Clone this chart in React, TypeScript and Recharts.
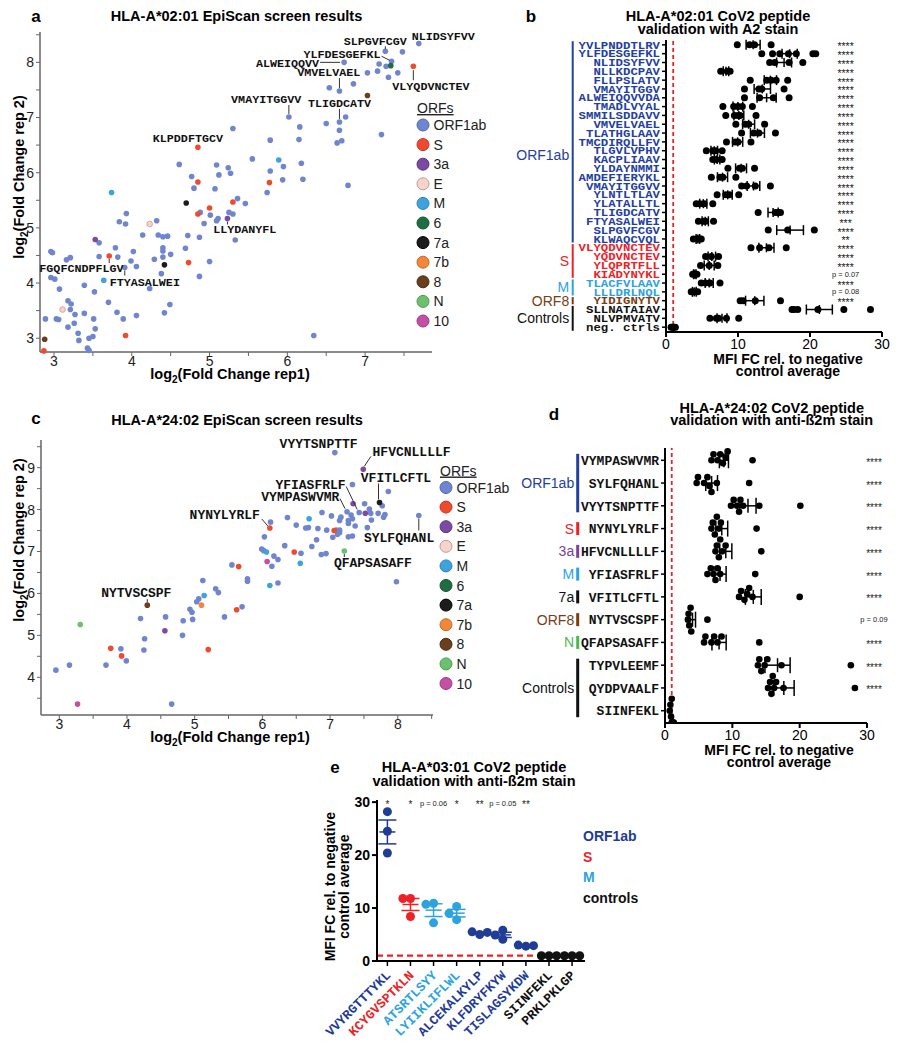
import React from "react"
import { ScatterChart, Scatter, XAxis, YAxis, ReferenceLine, ErrorBar } from "recharts"

const SANS = "'Liberation Sans', Arial, Helvetica, sans-serif"
const MONO = "'Liberation Mono', 'Courier New', monospace"

const BLUE = "#24409F"
const DBLUE = "#1F3C96"
const RED = "#EC2227"
const LBLUE = "#2CA3DF"
const BROWN = "#7A3D14"
const PURPLE = "#7E3F98"
const GREEN = "#4CB850"
const BLACK = "#111111"

const ORFS = ["ORF1ab", "S", "3a", "E", "M", "6", "7a", "7b", "8", "N", "10"]
const ORF_FILL: Record<string, string> = {
  ORF1ab: "#6F86CE", S: "#EE4A2E", "3a": "#7B4BA3", E: "#F6D3CB", M: "#3EA3DD", "6": "#1E6E44",
  "7a": "#1C1C1C", "7b": "#F0873A", "8": "#6B3E1E", N: "#6CC070", "10": "#C54FA3",
}
const ORF_EDGE: Record<string, string> = {
  ORF1ab: "#5068B0", S: "#C83520", "3a": "#5E3485", E: "#C89890", M: "#2583BB", "6": "#14502F",
  "7a": "#000000", "7b": "#C86A22", "8": "#4A2A12", N: "#4A9E4E", "10": "#A03583",
}

// ---- panel a: HLA-A*02:01 EpiScan (rep1, rep2, ORF)
const a2Screen: [number, number, string][] = [
  [7.69, 8.34, "ORF1ab"], [7.26, 8.2, "ORF1ab"], [7.48, 8.19, "ORF1ab"], [7.34, 8.02, "ORF1ab"], [6.73, 8.0, "ORF1ab"],
  [7.18, 7.97, "ORF1ab"], [7.27, 7.93, "ORF1ab"], [7.03, 7.81, "ORF1ab"], [7.16, 7.84, "ORF1ab"], [7.42, 7.81, "ORF1ab"],
  [7.3, 7.73, "ORF1ab"], [6.85, 7.61, "ORF1ab"], [6.54, 7.54, "ORF1ab"], [6.67, 7.48, "ORF1ab"], [6.02, 7.01, "ORF1ab"],
  [6.75, 7.01, "ORF1ab"], [6.67, 6.92, "ORF1ab"], [6.5, 6.89, "ORF1ab"], [6.16, 6.83, "ORF1ab"], [6.67, 6.77, "ORF1ab"],
  [5.3, 6.8, "ORF1ab"], [7.21, 6.69, "ORF1ab"], [5.78, 6.59, "ORF1ab"], [6.15, 6.6, "ORF1ab"], [6.7, 6.58, "ORF1ab"],
  [6.64, 6.54, "ORF1ab"], [5.55, 6.25, "ORF1ab"], [4.61, 6.15, "ORF1ab"], [5.09, 6.14, "ORF1ab"], [5.24, 6.09, "ORF1ab"],
  [6.18, 6.17, "ORF1ab"], [5.95, 6.11, "ORF1ab"], [4.77, 5.93, "ORF1ab"], [5.78, 6.03, "ORF1ab"], [5.12, 5.96, "ORF1ab"],
  [5.27, 5.99, "ORF1ab"], [4.8, 5.72, "ORF1ab"], [5.07, 5.71, "ORF1ab"], [5.94, 5.87, "ORF1ab"], [6.2, 5.88, "ORF1ab"],
  [6.78, 5.77, "ORF1ab"], [5.74, 5.64, "ORF1ab"], [5.36, 5.53, "ORF1ab"], [5.46, 5.44, "ORF1ab"], [4.88, 5.28, "ORF1ab"],
  [5.01, 5.23, "ORF1ab"], [5.25, 5.28, "ORF1ab"], [5.3, 5.25, "ORF1ab"], [4.93, 5.08, "ORF1ab"], [5.09, 5.13, "ORF1ab"],
  [5.11, 5.17, "ORF1ab"], [5.33, 4.78, "ORF1ab"], [3.93, 5.26, "ORF1ab"], [3.84, 5.11, "ORF1ab"], [3.92, 5.07, "ORF1ab"],
  [4.32, 5.13, "ORF1ab"], [4.14, 4.87, "ORF1ab"], [4.34, 4.87, "ORF1ab"], [4.4, 4.84, "ORF1ab"], [4.46, 4.85, "ORF1ab"],
  [4.72, 4.86, "ORF1ab"], [4.87, 4.83, "ORF1ab"], [4.69, 4.63, "ORF1ab"], [4.4, 4.64, "ORF1ab"], [4.4, 4.58, "ORF1ab"],
  [4.5, 4.52, "ORF1ab"], [4.4, 4.47, "ORF1ab"], [4.29, 4.43, "ORF1ab"], [4.02, 4.57, "ORF1ab"], [3.79, 4.64, "ORF1ab"],
  [3.82, 4.47, "ORF1ab"], [3.58, 4.73, "ORF1ab"], [3.58, 4.48, "ORF1ab"], [4.06, 4.3, "ORF1ab"], [3.99, 4.4, "ORF1ab"],
  [3.91, 4.28, "ORF1ab"], [2.96, 4.57, "ORF1ab"], [2.98, 4.55, "ORF1ab"], [3.21, 4.46, "ORF1ab"], [3.16, 4.42, "ORF1ab"],
  [2.96, 4.1, "ORF1ab"], [3.01, 4.07, "ORF1ab"], [3.07, 3.89, "ORF1ab"], [3.39, 3.96, "ORF1ab"], [3.52, 3.84, "ORF1ab"],
  [4.23, 3.9, "ORF1ab"], [4.38, 4.17, "ORF1ab"], [4.87, 4.12, "ORF1ab"], [5.0, 4.39, "ORF1ab"], [3.7, 3.65, "ORF1ab"],
  [3.81, 3.47, "ORF1ab"], [4.06, 3.41, "ORF1ab"], [4.42, 3.46, "ORF1ab"], [4.49, 3.61, "ORF1ab"], [3.89, 3.35, "ORF1ab"],
  [3.51, 3.35, "ORF1ab"], [3.53, 3.17, "ORF1ab"], [2.89, 3.35, "ORF1ab"], [3.03, 3.35, "ORF1ab"], [3.06, 3.34, "ORF1ab"],
  [3.18, 3.68, "ORF1ab"], [3.22, 3.62, "ORF1ab"], [3.21, 3.52, "ORF1ab"], [3.27, 3.43, "ORF1ab"], [3.26, 3.27, "ORF1ab"],
  [3.18, 3.2, "ORF1ab"], [3.39, 3.45, "ORF1ab"], [3.31, 3.09, "ORF1ab"], [3.32, 2.96, "ORF1ab"], [3.45, 3.0, "ORF1ab"],
  [3.5, 3.03, "ORF1ab"], [3.43, 2.82, "ORF1ab"], [3.45, 2.78, "ORF1ab"], [6.34, 3.05, "ORF1ab"],
  [7.62, 7.93, "S"], [4.85, 6.46, "S"], [4.85, 5.83, "S"], [5.77, 5.82, "S"], [5.3, 5.47, "S"], [5.0, 5.36, "S"],
  [4.85, 5.25, "S"], [4.73, 4.37, "S"], [3.71, 4.49, "S"], [3.92, 3.05, "S"], [2.87, 2.77, "S"],
  [5.23, 5.17, "3a"], [3.53, 4.79, "3a"],
  [4.23, 5.07, "E"], [3.11, 3.52, "E"],
  [3.74, 5.64, "M"], [5.89, 6.23, "M"], [3.64, 4.05, "M"],
  [7.33, 7.94, "6"],
  [4.7, 5.45, "7a"], [4.42, 4.33, "7a"],
  [7.03, 7.4, "8"], [2.88, 2.98, "8"],
]
const a2Named: [string, number, number][] = [
  ["NLIDSYFVV", 7.69, 8.34], ["SLPGVFCGV", 7.26, 8.2], ["YLFDESGEFKL", 7.34, 8.02], ["ALWEIQQVV", 6.73, 8.0],
  ["VMVELVAEL", 6.67, 7.48], ["VMAYITGGVV", 6.02, 7.01], ["TLIGDCATV", 6.67, 6.92], ["VLYQDVNCTEV", 7.62, 7.93],
  ["KLPDDFTGCV", 4.85, 6.46], ["LLYDANYFL", 5.23, 5.17], ["FGQFCNDPFLGV", 3.71, 4.49], ["FTYASALWEI", 3.91, 4.28],
]

// ---- panel c: HLA-A*24:02 EpiScan
const a24Screen: [number, number, string][] = [
  [7.07, 9.36, "ORF1ab"], [7.33, 8.6, "ORF1ab"], [7.86, 8.43, "ORF1ab"], [7.51, 8.14, "ORF1ab"], [7.77, 8.09, "ORF1ab"],
  [7.58, 8.01, "ORF1ab"], [7.25, 7.95, "ORF1ab"], [7.43, 7.93, "ORF1ab"], [7.71, 7.91, "ORF1ab"], [7.81, 7.88, "ORF1ab"],
  [7.79, 7.82, "ORF1ab"], [7.6, 7.91, "ORF1ab"], [7.31, 7.87, "ORF1ab"], [7.33, 7.78, "ORF1ab"], [7.27, 7.74, "ORF1ab"],
  [7.61, 7.75, "ORF1ab"], [7.16, 7.82, "ORF1ab"], [7.14, 7.74, "ORF1ab"], [7.02, 7.85, "ORF1ab"], [7.27, 7.67, "ORF1ab"],
  [7.37, 7.61, "ORF1ab"], [7.55, 7.57, "ORF1ab"], [7.09, 7.51, "ORF1ab"], [7.14, 7.51, "ORF1ab"], [7.11, 7.41, "ORF1ab"],
  [7.14, 7.45, "ORF1ab"], [7.27, 7.35, "ORF1ab"], [7.33, 7.37, "ORF1ab"], [7.04, 7.34, "ORF1ab"], [6.88, 7.93, "ORF1ab"],
  [6.37, 7.81, "ORF1ab"], [6.5, 7.63, "ORF1ab"], [6.64, 7.56, "ORF1ab"], [6.68, 7.57, "ORF1ab"], [6.82, 7.55, "ORF1ab"],
  [6.95, 7.51, "ORF1ab"], [6.12, 7.7, "ORF1ab"], [6.03, 7.35, "ORF1ab"], [6.8, 7.28, "ORF1ab"], [6.73, 7.12, "ORF1ab"],
  [6.33, 7.14, "ORF1ab"], [6.57, 6.96, "ORF1ab"], [6.87, 6.93, "ORF1ab"], [6.94, 6.95, "ORF1ab"], [5.99, 7.06, "ORF1ab"],
  [6.02, 7.02, "ORF1ab"], [6.17, 6.89, "ORF1ab"], [6.23, 6.81, "ORF1ab"], [6.14, 6.65, "ORF1ab"], [5.55, 6.68, "ORF1ab"],
  [5.78, 6.35, "ORF1ab"], [5.78, 6.29, "ORF1ab"], [6.23, 6.25, "ORF1ab"], [7.98, 6.28, "ORF1ab"], [5.12, 6.31, "ORF1ab"],
  [5.31, 6.11, "ORF1ab"], [5.35, 6.02, "ORF1ab"], [5.06, 5.87, "ORF1ab"], [5.03, 5.8, "ORF1ab"], [5.7, 5.68, "ORF1ab"],
  [4.93, 5.62, "ORF1ab"], [4.96, 5.55, "ORF1ab"], [5.44, 5.44, "ORF1ab"], [4.57, 5.44, "ORF1ab"], [4.2, 5.4, "ORF1ab"],
  [4.83, 5.35, "ORF1ab"], [4.97, 5.38, "ORF1ab"], [4.82, 5.0, "ORF1ab"], [4.26, 4.92, "ORF1ab"], [3.91, 4.68, "ORF1ab"],
  [4.25, 4.65, "ORF1ab"], [3.99, 4.39, "ORF1ab"], [3.69, 4.29, "ORF1ab"], [3.15, 4.29, "ORF1ab"], [2.95, 4.17, "ORF1ab"],
  [4.66, 3.36, "ORF1ab"], [8.31, 7.86, "ORF1ab"],
  [6.11, 7.56, "S"], [6.47, 6.99, "S"], [7.06, 7.5, "S"], [5.65, 6.64, "S"], [5.62, 5.61, "S"], [3.76, 4.69, "S"],
  [5.2, 4.66, "S"], [3.92, 4.51, "S"],
  [7.49, 8.96, "3a"], [7.34, 8.14, "3a"], [7.52, 7.91, "3a"], [4.56, 5.11, "3a"],
  [6.69, 7.78, "M"], [6.06, 6.99, "M"], [6.56, 6.72, "M"], [6.11, 6.19, "M"], [5.14, 5.95, "M"],
  [7.73, 8.17, "7a"], [5.1, 5.72, "7b"], [4.3, 5.72, "8"], [7.21, 7.01, "N"], [3.31, 5.26, "N"],
  [6.07, 6.76, "10"], [3.27, 3.36, "10"],
]
const a24Named: [string, number, number][] = [
  ["VYYTSNPTTF", 7.07, 9.36], ["HFVCNLLLLF", 7.49, 8.96], ["VFITLCFTL", 7.73, 8.17], ["YFIASFRLF", 7.43, 7.93],
  ["VYMPASWVMR", 7.25, 7.95], ["NYNYLYRLF", 6.11, 7.56], ["SYLFQHANL", 8.31, 7.86], ["QFAPSASAFF", 7.21, 7.01],
  ["NYTVSCSPF", 4.3, 5.72],
]

// label placement (pixel offsets from the labelled point)
type LabelPos = { dx: number; dy: number; anchor: "start" | "middle" | "end"; line?: number[] }
const a2LabelPos: Record<string, LabelPos> = {
  NLIDSYFVV: { dx: -7, dy: -3.5, anchor: "start" },
  SLPGVFCGV: { dx: -10, dy: -6.5, anchor: "middle", line: [0, -2, 0, -5] },
  YLFDESGEFKL: { dx: -11, dy: -3, anchor: "end", line: [-10, -5, -2, -1] },
  ALWEIQQVV: { dx: -25, dy: 4.5, anchor: "end", line: [-24, 0, -4, 0] },
  VMVELVAEL: { dx: -10.7, dy: -15, anchor: "middle", line: [0, -13, 0, -3] },
  VMAYITGGVV: { dx: -22.7, dy: -13.7, anchor: "middle", line: [0, -12, 0, -3] },
  TLIGDCATV: { dx: 0, dy: -15, anchor: "middle", line: [0, -13, 0, -3] },
  VLYQDVNCTEV: { dx: -21, dy: 23.5, anchor: "start", line: [0, 4, 0, 14] },
  KLPDDFTGCV: { dx: -10, dy: -5, anchor: "middle" },
  LLYDANYFL: { dx: -14.3, dy: 14.7, anchor: "start", line: [0, 3, 0, 6] },
  FGQFCNDPFLGV: { dx: 14.3, dy: 16, anchor: "end", line: [0, 3, 0, 7] },
  FTYASALWEI: { dx: -15, dy: 18, anchor: "start", line: [0, 3, 0, 8] },
}
const a24LabelPos: Record<string, LabelPos> = {
  VYYTSNPTTF: { dx: -16.2, dy: -4.7, anchor: "middle" },
  HFVCNLLLLF: { dx: 9.3, dy: -13.8, anchor: "start", line: [1, -3, 7.7, -13] },
  VFITLCFTL: { dx: 16.4, dy: -20.3, anchor: "middle", line: [-1, -3, -1, -19] },
  YFIASFRLF: { dx: -13.6, dy: -24, anchor: "end", line: [-13, -26, -2, -3] },
  VYMPASWVMR: { dx: -7.7, dy: -10.2, anchor: "end", line: [-7, -13, -2, -3] },
  NYNYLYRLF: { dx: -10, dy: -9, anchor: "end", line: [-8, -9, -2, -2] },
  SYLFQHANL: { dx: -19.7, dy: 26.7, anchor: "middle", line: [0, 3, 0, 15] },
  QFAPSASAFF: { dx: -10.4, dy: 15.5, anchor: "start", line: [0, 3, 0, 6] },
  NYTVSCSPF: { dx: -11, dy: -8.5, anchor: "middle", line: [0, -3, 0, -6] },
}

// ---- panel b: A2 validation
const a2Peptides = [
  "YVLPNDDTLRV", "YLFDESGEFKL", "NLIDSYFVV", "NLLKDCPAV", "FLLPSLATV", "VMAYITGGV", "ALWEIQQVVDA", "TMADLVYAL",
  "SMMILSDDAVV", "VMVELVAEL", "TLATHGLAAV", "TMCDIRQLLFV", "TLGVLVPHV", "KACPLIAAV", "YLDAYNMMI", "AMDEFIERYKL",
  "VMAYITGGVV", "YLNTLTLAV", "YLATALLTL", "TLIGDCATV", "FTYASALWEI", "SLPGVFCGV", "KLWAQCVQL", "VLYQDVNCTEV",
  "YQDVNCTEV", "YLQPRTFLL", "KIADYNYKL", "TLACFVLAAV", "LLLDRLNQL", "YIDIGNYTV", "SLLNATAIAV", "NLVPMVATV", "neg. ctrls",
]
const a2Fc = [
  [9.9, 11.6, 12.3, 14.6], [13.3, 14.8, 15.8, 17.0, 18.1, 20.4, 20.8], [14.4, 15.1, 17.1, 19.0], [7.6, 8.5, 8.9],
  [11.7, 14.0, 14.6, 15.3, 16.9], [10.9, 12.9, 13.3, 16.4], [10.9, 13.0, 14.9, 17.1], [7.9, 9.4, 10.0, 10.6, 12.0],
  [8.3, 9.5, 10.0, 10.3, 12.5], [9.7, 11.0, 11.5, 13.7], [10.5, 12.2, 12.9, 15.2], [8.4, 9.6, 10.0, 11.8],
  [5.6, 6.5, 6.9, 7.8], [6.5, 7.0, 7.8], [8.6, 10.2, 10.6, 12.3], [6.3, 7.5, 7.9, 9.7], [10.5, 11.2, 12.4, 14.5],
  [7.1, 8.3, 8.8, 10.1], [4.2, 4.7, 5.3, 6.5], [12.8, 15.2, 15.6, 15.9], [4.5, 5.2, 5.5, 6.6], [14.2, 16.9, 20.6],
  [3.8, 4.3, 4.7, 4.9], [11.8, 13.0, 14.3, 16.7], [5.5, 6.3, 7.3], [4.8, 6.0, 7.2], [3.7, 4.0, 4.3],
  [4.9, 5.5, 6.1, 7.5], [3.5, 3.9, 4.4], [10.3, 10.7, 12.4, 15.9], [17.5, 17.8, 18.3, 21.1, 24.7, 28.4],
  [6.1, 7.0, 7.3, 8.4, 10.1], [0.7, 0.9, 1.0, 1.1, 1.3],
]
const a2Sig = [
  "****", "****", "****", "****", "****", "****", "****", "****", "****", "****", "****", "****", "****", "****",
  "****", "****", "****", "****", "****", "****", "***", "****", "**", "****", "****", "****", "p = 0.07", "****",
  "p = 0.08", "****", "", "", "",
]
type Group = { name: string; from: number; to: number; color: string; at?: number }
const a2Groups: Group[] = [
  { name: "ORF1ab", from: 0, to: 22, color: BLUE, at: 12.5 },
  { name: "S", from: 23, to: 26, color: RED },
  { name: "M", from: 27, to: 28, color: LBLUE },
  { name: "ORF8", from: 29, to: 29, color: BROWN },
  { name: "Controls", from: 30, to: 32, color: BLACK },
]

// ---- panel d: A24 validation
const a24Peptides = [
  "VYMPASWVMR", "SYLFQHANL", "VYYTSNPTTF", "NYNYLYRLF", "HFVCNLLLLF", "YFIASFRLF", "VFITLCFTL", "NYTVSCSPF",
  "QFAPSASAFF", "TYPVLEEMF", "QYDPVAALF", "SIINFEKL",
]
const a24Fc = [
  [6.9, 7.2, 7.8, 8.2, 8.6, 9.0, 9.3, 13.0], [4.7, 4.9, 5.8, 6.3, 6.6, 6.9, 7.7, 12.5],
  [9.8, 10.2, 10.7, 11.0, 11.2, 11.6, 14.0, 20.1], [6.9, 7.1, 7.4, 7.7, 8.0, 8.3, 13.6],
  [7.5, 7.7, 8.0, 8.2, 8.5, 9.0, 14.3], [6.3, 6.8, 7.2, 7.5, 7.8, 8.2, 13.4], [11.0, 11.3, 11.8, 12.2, 12.5, 13.0, 20.0],
  [3.4, 3.5, 3.6, 3.8, 3.9, 6.3], [5.8, 6.0, 6.9, 7.3, 7.8, 8.4, 14.0], [13.8, 14.0, 14.3, 14.8, 15.2, 17.3, 27.6],
  [15.3, 15.6, 15.8, 16.0, 16.2, 16.5, 17.6, 28.2], [0.7, 0.8, 0.9, 1.0, 1.0, 1.1, 1.2, 1.3],
]
const a24Sig = ["****", "****", "****", "****", "****", "****", "****", "p = 0.09", "****", "****", "****", ""]
const a24Groups: Group[] = [
  { name: "ORF1ab", from: 0, to: 2, color: BLUE },
  { name: "S", from: 3, to: 3, color: RED },
  { name: "3a", from: 4, to: 4, color: PURPLE },
  { name: "M", from: 5, to: 5, color: LBLUE },
  { name: "7a", from: 6, to: 6, color: BLACK },
  { name: "ORF8", from: 7, to: 7, color: BROWN },
  { name: "N", from: 8, to: 8, color: GREEN },
  { name: "Controls", from: 9, to: 11, color: BLACK },
]

// ---- panel e: A3 validation
const a3Peptides = ["VVYRGTTTYKL", "KCYGVSPTKLN", "ATSRTLSYY", "LYIIKLIFLWL", "ALCEKALKYLP", "KLFDRYFKYW", "TISLAGSYKDW", "SIINFEKL", "PRKLPKLGP"]
const a3Source = ["ORF1ab", "S", "M", "M", "ORF1ab", "ORF1ab", "ORF1ab", "controls", "controls"]
const a3Fc = [[28.2, 24.5, 20.4], [11.8, 11.8, 8.4], [10.9, 10.7, 7.2], [10.3, 9.0, 7.8], [5.0, 5.5, 5.4], [5.8, 4.1, 4.9], [2.8, 3.0, 2.9], [1.0, 1.0, 1.0], [1.0, 1.0, 1.0]]
const a3Sig = ["*", "*", "p = 0.06", "*", "**", "p = 0.05", "**", "", ""]
const A3_COLOR: Record<string, string> = { ORF1ab: DBLUE, S: RED, M: LBLUE, controls: BLACK }

const mean = (v: number[]) => v.reduce((s, x) => s + x, 0) / v.length
const sem = (v: number[]) => {
  const m = mean(v)
  return Math.sqrt(v.reduce((s, x) => s + (x - m) ** 2, 0) / (v.length - 1)) / Math.sqrt(v.length)
}
// simple beeswarm: sideways offsets so dots do not sit on top of each other
function swarm(values: number[], vPx: number, oPx: number, diam: number, step: number) {
  const placed: { v: number; o: number }[] = []
  return values.map((v) => {
    const cands = [0, -step, step, -2 * step, 2 * step, -3 * step, 3 * step, -4 * step, 4 * step]
    let pick = cands[cands.length - 1]
    for (const o of cands) {
      if (placed.every((p) => Math.hypot((p.v - v) * vPx, (p.o - o) * oPx) >= diam)) { pick = o; break }
    }
    placed.push({ v, o: pick })
    return pick
  })
}

function EpiScan(props: any) {
  const { points, named, pos, labelSize } = props
  const series = ORFS.map((orf) => ({ orf, data: points.filter((p: any) => p[2] === orf).map((p: any) => ({ x: p[0], y: p[1] })) })).filter((s) => s.data.length > 0)
  const labelData = named.map(([pep, x, y]: any) => ({ pep, x, y }))
  const fmt = (v: number) => (Number.isInteger(v) ? String(v) : "")
  const axisLine = { stroke: "#666", strokeWidth: 1.5 }
  const tick = { fill: "#222", fontSize: 14, fontFamily: SANS }
  return (
    <ScatterChart width={props.width} height={props.height} margin={props.margin}>
      <XAxis type="number" dataKey="x" domain={props.xDomain} ticks={props.xTicks} interval={0} tickFormatter={fmt}
        axisLine={axisLine} tickLine={{ stroke: "#666" }} tickSize={4} tickMargin={0} height={props.xAxisHeight} tick={tick} />
      <YAxis type="number" dataKey="y" domain={props.yDomain} ticks={props.yTicks} interval={0} tickFormatter={fmt}
        axisLine={axisLine} tickLine={{ stroke: "#666" }} tickSize={4} width={props.yAxisWidth} tick={tick} />
      {series.map((s) => (
        <Scatter key={s.orf} data={s.data} isAnimationActive={false}
          shape={(p: any) => <circle cx={p.cx} cy={p.cy} r={2.8} fill={ORF_FILL[s.orf]} stroke={s.orf === "E" ? ORF_EDGE.E : "none"} strokeWidth={0.8} />} />
      ))}
      <Scatter data={labelData} isAnimationActive={false}
        shape={(p: any) => {
          const L = pos[p.payload.pep]
          return (
            <g>
              {L.line && <line x1={p.cx + L.line[0]} y1={p.cy + L.line[1]} x2={p.cx + L.line[2]} y2={p.cy + L.line[3]} stroke="#333" strokeWidth={1} />}
              <text x={p.cx + L.dx} y={p.cy + L.dy} textAnchor={L.anchor} fontFamily={MONO} fontWeight="bold" fontSize={labelSize} fill="#111">{p.payload.pep}</text>
            </g>
          )
        }} />
    </ScatterChart>
  )
}

function PeptideDots(props: any) {
  const { peptides, values, groups, sig, colorLabels, width, height, margin, yAxisWidth, xAxisHeight, pad } = props
  const n = peptides.length
  const rowPx = (height - margin.top - xAxisHeight) / (n - 1 + 2 * pad)
  const xPx = (width - margin.right - yAxisWidth) / 30
  const dots: any[] = []
  values.forEach((row: number[], i: number) => {
    const offs = props.swarmStep ? swarm(row, xPx, rowPx, props.dotR * 1.7, props.swarmStep) : row.map(() => 0)
    row.forEach((v, j) => dots.push({ x: v, y: i + offs[j] }))
  })
  const means = values.map((row: number[], i: number) => ({ x: mean(row), y: i, sem: sem(row) })).slice(0, props.meanRows)
  const groupOf = (i: number) => groups.find((g: Group) => i >= g.from && i <= g.to)
  const Tick = (t: any) => {
    const i = Math.round(t.payload.value)
    const g = groupOf(i)
    const barX = t.x + props.barDx
    const s = sig[i]
    const isP = s && s.startsWith("p")
    const labelRow = g.at ?? (g.from + g.to) / 2
    const pep = peptides[i]
    return (
      <g>
        <text x={t.x} y={t.y} dy={props.labelSize * 0.36} textAnchor="end" fontFamily={MONO} fontWeight="bold" fontSize={props.labelSize}
          textLength={pep.length * props.charW} lengthAdjust="spacingAndGlyphs"
          fill={colorLabels ? g.color : BLACK}>{pep}</text>
        {i === g.from && (
          <g>
            <line x1={barX} x2={barX} y1={t.y - props.barHalf} y2={t.y + (g.to - g.from) * rowPx + props.barHalf} stroke={g.color} strokeWidth={props.barWidth} />
            <text x={barX - 3.5} y={t.y + (labelRow - g.from) * rowPx + 5} textAnchor="end" fontFamily={SANS} fontSize={14} fill={g.color}>{g.name}</text>
          </g>
        )}
        {s && (
          <text x={t.x + props.statDx} y={t.y + (isP ? 2.5 : 5.5)} textAnchor="middle" fontFamily={SANS} fontSize={isP ? 7.5 : props.starSize} fill="#222">{s}</text>
        )}
      </g>
    )
  }
  return (
    <ScatterChart width={width} height={height} margin={margin}>
      <XAxis type="number" dataKey="x" domain={[0, 30]} ticks={[0, 10, 20, 30]} interval={0} allowDataOverflow height={xAxisHeight}
        axisLine={{ stroke: "#000", strokeWidth: 2 }} tickLine={{ stroke: "#000", strokeWidth: 2 }} tickSize={5}
        tick={{ fill: "#000", fontSize: 14, fontFamily: SANS }} />
      <YAxis type="number" dataKey="y" domain={[-pad, n - 1 + pad]} reversed allowDataOverflow ticks={peptides.map((_: any, i: number) => i)} interval={0}
        width={yAxisWidth} axisLine={{ stroke: "#000", strokeWidth: 2 }} tickLine={{ stroke: "#000", strokeWidth: 1.5 }} tickSize={4} tick={Tick} />
      <ReferenceLine x={1} stroke={RED} strokeWidth={1.8} strokeDasharray="4 3" />
      <Scatter data={dots} isAnimationActive={false} shape={(p: any) => <circle cx={p.cx} cy={p.cy} r={props.dotR} fill="#000" />} />
      <Scatter data={means} isAnimationActive={false}
        shape={(p: any) => <line x1={p.cx} x2={p.cx} y1={p.cy - props.meanHalf} y2={p.cy + props.meanHalf} stroke="#000" strokeWidth={1.5} />}>
        <ErrorBar dataKey="sem" direction="x" width={props.capWidth} stroke="#000" strokeWidth={1.5} />
      </Scatter>
    </ScatterChart>
  )
}

function A3Dots() {
  const width = 340, height = 290
  const margin = { top: 40, right: 35, bottom: 0, left: 0 }
  const yAxisWidth = 97, xAxisHeight = 89
  const xDomain = [-0.45, 8.56], yDomain = [0, 30.4]
  const xPx = (width - margin.right - yAxisWidth) / (xDomain[1] - xDomain[0])
  const yPx = (height - margin.top - xAxisHeight) / (yDomain[1] - yDomain[0])
  const bySource = Object.keys(A3_COLOR).map((src) => {
    const dots: any[] = []
    const means: any[] = []
    a3Fc.forEach((row, i) => {
      if (a3Source[i] !== src) return
      const offs = swarm(row, yPx, xPx, 7.6, 0.33)
      row.forEach((v, j) => dots.push({ x: i + offs[j], y: v }))
      means.push({ x: i, y: mean(row), sem: sem(row) })
    })
    return { src, dots, means }
  })
  const stats = a3Sig.map((s, i) => ({ x: i, y: 30, s })).filter((d) => d.s)
  const Tick = (t: any) => {
    const i = Math.round(t.payload.value)
    return (
      <text transform={`translate(${t.x + 4},${t.y + 8}) rotate(-45)`} textAnchor="end" fontFamily={MONO} fontWeight="bold" fontSize={13}
        fill={A3_COLOR[a3Source[i]]}>{a3Peptides[i]}</text>
    )
  }
  return (
    <ScatterChart width={width} height={height} margin={margin}>
      <XAxis type="number" dataKey="x" domain={xDomain} allowDataOverflow ticks={a3Peptides.map((_, i) => i)} interval={0} height={xAxisHeight}
        axisLine={{ stroke: "#000", strokeWidth: 2 }} tickLine={{ stroke: "#000", strokeWidth: 1.5 }} tickSize={5} tick={Tick} />
      <YAxis type="number" dataKey="y" domain={yDomain} allowDataOverflow ticks={[0, 10, 20, 30]} interval={0} width={yAxisWidth}
        axisLine={{ stroke: "#000", strokeWidth: 2 }} tickLine={{ stroke: "#000", strokeWidth: 2 }} tickSize={5}
        tick={{ fill: "#000", fontSize: 14, fontWeight: 700, fontFamily: SANS }} />
      <ReferenceLine y={1} stroke={RED} strokeWidth={2.2} strokeDasharray="6 4" />
      {bySource.map((g) => (
        <Scatter key={g.src + "d"} data={g.dots} isAnimationActive={false}
          shape={(p: any) => <circle cx={p.cx} cy={p.cy} r={4.5} fill={A3_COLOR[g.src]} />} />
      ))}
      {bySource.map((g) => (
        <Scatter key={g.src + "m"} data={g.means} isAnimationActive={false}
          shape={(p: any) => <line x1={p.cx - 8} x2={p.cx + 8} y1={p.cy} y2={p.cy} stroke={A3_COLOR[g.src]} strokeWidth={1.5} />}>
          <ErrorBar dataKey="sem" direction="y" width={9} stroke={A3_COLOR[g.src]} strokeWidth={1.5} />
        </Scatter>
      ))}
      <Scatter data={stats} isAnimationActive={false}
        shape={(p: any) => {
          const isP = p.payload.s.startsWith("p")
          return <text x={p.cx} y={p.cy + (isP ? 3.5 : 6)} textAnchor="middle" fontFamily={SANS} fontSize={isP ? 7.5 : 10} fill="#222">{p.payload.s}</text>
        }} />
    </ScatterChart>
  )
}

function OrfLegend({ cx, cy }: { cx: number; cy: number }) {
  return (
    <g fontFamily={SANS} fontSize={14} fill="#222">
      <text x={cx - 6} y={cy - 12} textDecoration="underline">ORFs</text>
      {ORFS.map((o, i) => (
        <g key={o}>
          <circle cx={cx} cy={cy + i * 19.6} r={6} fill={ORF_FILL[o]} stroke={ORF_EDGE[o]} strokeWidth={1} />
          <text x={cx + 10.5} y={cy + i * 19.6 + 5}>{o}</text>
        </g>
      ))}
    </g>
  )
}

function Log2Label({ x, y, text, rotate }: { x: number; y: number; text: string; rotate?: boolean }) {
  return (
    <text transform={`translate(${x},${y})${rotate ? " rotate(-90)" : ""}`} textAnchor="middle" fontFamily={SANS} fontWeight={700} fontSize={14.5} fill="#000">
      log<tspan fontSize={10} dy={4}>2</tspan><tspan dy={-4}>{text}</tspan>
    </text>
  )
}

function Overlay() {
  const t = { fontFamily: SANS, fontWeight: 700, fill: "#000" } as any
  return (
    <svg width={899} height={1050} style={{ position: "absolute", left: 0, top: 0, pointerEvents: "none" }}>
      <text {...t} x={36} y={22} fontSize={17} textAnchor="middle">a</text>
      <text {...t} x={236.5} y={21} fontSize={14.5} textAnchor="middle">HLA-A*02:01 EpiScan screen results</text>
      <Log2Label x={24} y={177} text="(Fold Change rep 2)" rotate />
      <Log2Label x={230} y={379} text="(Fold Change rep1)" />
      <OrfLegend cx={423} cy={125} />

      <text {...t} x={531} y={22} fontSize={17} textAnchor="middle">b</text>
      <text {...t} x={718} y={21} fontSize={14.5} textAnchor="middle">HLA-A*02:01 CoV2 peptide</text>
      <text {...t} x={718} y={33.5} fontSize={14.5} textAnchor="middle">validation with A2 stain</text>
      <text {...t} x={788} y={364} fontSize={14} textAnchor="middle">MFI FC rel. to negative</text>
      <text {...t} x={788} y={375.5} fontSize={14} textAnchor="middle">control average</text>

      <text {...t} x={36} y={424} fontSize={17} textAnchor="middle">c</text>
      <text {...t} x={237} y={424.5} fontSize={14.5} textAnchor="middle">HLA-A*24:02 EpiScan screen results</text>
      <Log2Label x={24} y={540} text="(Fold Change rep 2)" rotate />
      <Log2Label x={230} y={742} text="(Fold Change rep1)" />
      <OrfLegend cx={446} cy={487.5} />

      <text {...t} x={554} y={420} fontSize={17} textAnchor="middle">d</text>
      <text {...t} x={771.7} y={412.5} fontSize={14.5} textAnchor="middle">HLA-A*24:02 CoV2 peptide</text>
      <text {...t} x={771.7} y={425} fontSize={14.5} textAnchor="middle">validation with anti-ß2m stain</text>
      <text {...t} x={779} y={755} fontSize={14} textAnchor="middle">MFI FC rel. to negative</text>
      <text {...t} x={779} y={766.5} fontSize={14} textAnchor="middle">control average</text>

      <text {...t} x={335} y={773} fontSize={17} textAnchor="middle">e</text>
      <text {...t} x={474} y={772} fontSize={14.5} textAnchor="middle">HLA-A*03:01 CoV2 peptide</text>
      <text {...t} x={474} y={786} fontSize={14.5} textAnchor="middle">validation with anti-ß2m stain</text>
      <text {...t} transform="translate(334.5,886.7) rotate(-90)" fontSize={14} textAnchor="middle">MFI FC rel. to negative</text>
      <text {...t} transform="translate(348.5,886.7) rotate(-90)" fontSize={14} textAnchor="middle">control average</text>
      {Object.keys(A3_COLOR).map((k, i) => (
        <text key={k} {...t} x={583} y={841 + i * 20.7} fontSize={14} fill={A3_COLOR[k]}>{k}</text>
      ))}
    </svg>
  )
}

export default function App() {
  return (
    <div style={{ position: "absolute", left: 0, top: 0, width: 899, height: 1050, background: "#fff" }}>
      <div style={{ position: "absolute", left: 0, top: 0 }}>
        <EpiScan points={a2Screen} named={a2Named} pos={a2LabelPos} labelSize={11.7}
          width={480} height={400} margin={{ top: 32, right: 48, bottom: 0, left: 0 }} yAxisWidth={40} xAxisHeight={48}
          xDomain={[2.82, 7.86]} yDomain={[2.75, 8.55]}
          xTicks={[3, 3.5, 4, 4.5, 5, 5.5, 6, 6.5, 7, 7.5]} yTicks={[3, 3.5, 4, 4.5, 5, 5.5, 6, 6.5, 7, 7.5, 8, 8.5]} />
      </div>
      <div style={{ position: "absolute", left: 0, top: 400 }}>
        <EpiScan points={a24Screen} named={a24Named} pos={a24LabelPos} labelSize={13}
          width={470} height={360} margin={{ top: 40, right: 37, bottom: 0, left: 0 }} yAxisWidth={41} xAxisHeight={45}
          xDomain={[2.73, 8.52]} yDomain={[3.1, 9.66]}
          xTicks={[3, 3.5, 4, 4.5, 5, 5.5, 6, 6.5, 7, 7.5, 8, 8.5]} yTicks={[3.5, 4, 4.5, 5, 5.5, 6, 6.5, 7, 7.5, 8, 8.5, 9, 9.5]} />
      </div>
      <div style={{ position: "absolute", left: 440, top: 0 }}>
        <PeptideDots peptides={a2Peptides} values={a2Fc} groups={a2Groups} sig={a2Sig} colorLabels
          width={459} height={357} margin={{ top: 40, right: 17, bottom: 0, left: 0 }} yAxisWidth={226} xAxisHeight={25} pad={0.55}
          labelSize={10.2} charW={7.4} dotR={3.5} meanHalf={4.5} capWidth={5} meanRows={32} barDx={-87.3} barHalf={3.6} barWidth={2}
          statDx={185.6} starSize={10.5} />
      </div>
      <div style={{ position: "absolute", left: 440, top: 400 }}>
        <PeptideDots peptides={a24Peptides} values={a24Fc} groups={a24Groups} sig={a24Sig} colorLabels={false}
          width={459} height={350} margin={{ top: 48, right: 32, bottom: 0, left: 0 }} yAxisWidth={225} xAxisHeight={27} pad={0.54}
          labelSize={13} charW={7.8} dotR={3.3} meanHalf={7} capWidth={8} meanRows={11} barDx={-81.3} barHalf={6.5} barWidth={3}
          statDx={215} starSize={10} swarmStep={0.13} />
      </div>
      <div style={{ position: "absolute", left: 280, top: 760 }}>
        <A3Dots />
      </div>
      <Overlay />
    </div>
  )
}
